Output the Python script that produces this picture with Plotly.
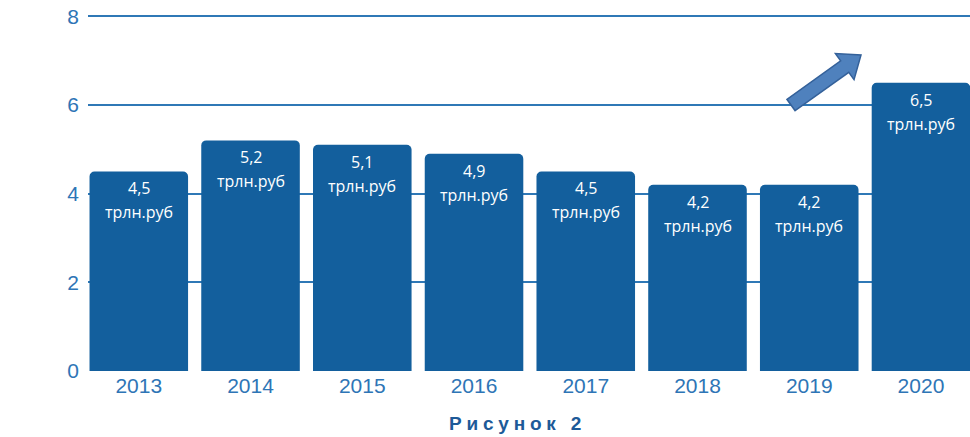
import math
import plotly.graph_objects as go

years = ["2013", "2014", "2015", "2016", "2017", "2018", "2019", "2020"]
values = [4.5, 5.2, 5.1, 4.9, 4.5, 4.2, 4.2, 6.5]
value_labels = ["4,5", "5,2", "5,1", "4,9", "4,5", "4,2", "4,2", "6,5"]
unit_label = "трлн.руб"
y_ticks = [0, 2, 4, 6, 8]
caption = "Рисунок 2"

BAR = "#135f9d"
GRID = "#2f78b6"
TICK = "#2e75b6"

W, H = 970, 437
ML, MR, MT, MB = 88, 0, 14, 66
PW, PH = W - ML - MR, H - MT - MB

fig = go.Figure()
fig.add_trace(go.Bar(
    x=years, y=values,
    marker=dict(color=BAR, line=dict(width=0), cornerradius=5),
    hoverinfo="skip",
))

ann = []
for i, (v, lab) in enumerate(zip(values, value_labels)):
    ann.append(dict(x=i, y=v, xref="x", yref="y", text=lab, showarrow=False,
                    yanchor="middle", yshift=-17,
                    font=dict(family="Open Sans", size=16, color="white")))
    ann.append(dict(x=i, y=v, xref="x", yref="y", text=unit_label, showarrow=False,
                    yanchor="middle", yshift=-41,
                    font=dict(family="Open Sans", size=16, color="white")))

# caption
ann.append(dict(x=(517 - ML) / PW, y=(MT + PH - 424) / PH, xref="paper", yref="paper",
                text="<b><span style='letter-spacing:4.8px'>" + caption + "</span></b>",
                showarrow=False, xanchor="center", yanchor="middle",
                font=dict(family="Liberation Sans", size=19, color="#1d5a98")))

# decorative block arrow (pixel geometry -> paper coords)
tail = (791.0, 105.0)
tip = (861.0, 55.0)
dx, dy = tip[0] - tail[0], tip[1] - tail[1]
L = math.hypot(dx, dy)
ux, uy = dx / L, dy / L
nx, ny = -uy, ux
hw_s, hw_h, hl = 7.0, 16.0, 20.0
bx, by = tip[0] - ux * hl, tip[1] - uy * hl
pts = [
    (tail[0] + nx * hw_s, tail[1] + ny * hw_s),
    (bx + nx * hw_s, by + ny * hw_s),
    (bx + nx * hw_h, by + ny * hw_h),
    tip,
    (bx - nx * hw_h, by - ny * hw_h),
    (bx - nx * hw_s, by - ny * hw_s),
    (tail[0] - nx * hw_s, tail[1] - ny * hw_s),
]
def to_paper(p):
    return ((p[0] - ML) / PW, (MT + PH - p[1]) / PH)
pp = [to_paper(p) for p in pts]
path = "M " + " L ".join(f"{x:.5f},{y:.5f}" for x, y in pp) + " Z"

fig.update_layout(
    width=W, height=H,
    margin=dict(l=ML, r=MR, t=MT, b=MB, pad=0),
    paper_bgcolor="white", plot_bgcolor="white",
    bargap=0.118,
    showlegend=False,
    annotations=ann,
    shapes=[dict(type="path", path=path, xref="paper", yref="paper",
                 fillcolor="#4f81bd", line=dict(color="#34619a", width=1.5))],
    xaxis=dict(type="category", range=[-0.4546, 7.4387],
               showgrid=False, zeroline=False, showline=False, ticks="",
               tickfont=dict(family="Liberation Sans", size=21, color=TICK)),
    yaxis=dict(range=[0, 8.05], tickvals=y_ticks, showgrid=True, gridcolor=GRID, gridwidth=2,
               zeroline=False, showline=False, ticks="", ticklabelstandoff=8,
               tickfont=dict(family="Liberation Sans", size=21, color=TICK)),
)

fig.write_html(
    "out.html",
    config={"displayModeBar": False},
    post_script="document.body.style.margin='0';document.body.style.overflow='hidden';",
)
